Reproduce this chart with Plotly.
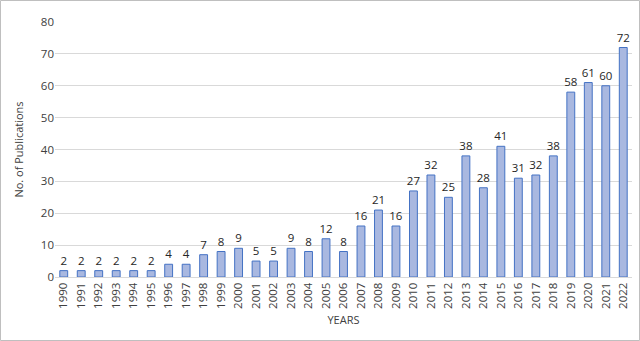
import plotly.graph_objects as go

years = [str(y) for y in range(1990, 2023)]
counts = [2, 2, 2, 2, 2, 2, 4, 4, 7, 8, 9, 5, 5, 9, 8, 12, 8, 16, 21, 16,
          27, 32, 25, 38, 28, 41, 31, 32, 38, 58, 61, 60, 72]
y_ticks = [0, 10, 20, 30, 40, 50, 60, 70, 80]

W, H = 640, 341
ml, mr, mt, mb = 55, 8, 22, 64
pw, ph = W - ml - mr, H - mt - mb

fig = go.Figure(go.Bar(
    x=years, y=counts, text=[str(c) for c in counts],
    textposition="outside", cliponaxis=False,
    textfont=dict(size=11.5, color="#262626"),
    marker=dict(color="#A9B8E0", line=dict(color="#4472C4", width=1)),
    width=0.45,
))

fig.update_layout(
    width=W, height=H,
    margin=dict(l=ml, r=mr, t=mt, b=mb),
    paper_bgcolor="white", plot_bgcolor="white",
    font=dict(family="Open Sans, Liberation Sans, sans-serif", size=11, color="#404040"),
    showlegend=False,
    uniformtext=dict(minsize=11.5, mode="show"),
    xaxis=dict(title=dict(text="YEARS", font=dict(size=11), standoff=8),
               tickangle=-90, showgrid=False, showline=True, linecolor="#D9D9D9",
               ticks="", tickfont=dict(size=11.5)),
    yaxis=dict(title=dict(text="No. of Publications", font=dict(size=11), standoff=14),
               range=[0, 80], tickvals=y_ticks, showgrid=True, gridcolor="#D9D9D9",
               zeroline=False, ticks="", tickfont=dict(size=11.5)),
    shapes=[dict(type="rect", xref="paper", yref="paper",
                 x0=-(ml - 0.5) / pw, x1=(W - 0.5 - ml) / pw,
                 y0=-(H - 0.5 - (mt + ph)) / ph, y1=(mt + ph - 0.5) / ph,
                 line=dict(color="#BFBFBF", width=1), layer="below")],
)

fig.write_html("out.html")
